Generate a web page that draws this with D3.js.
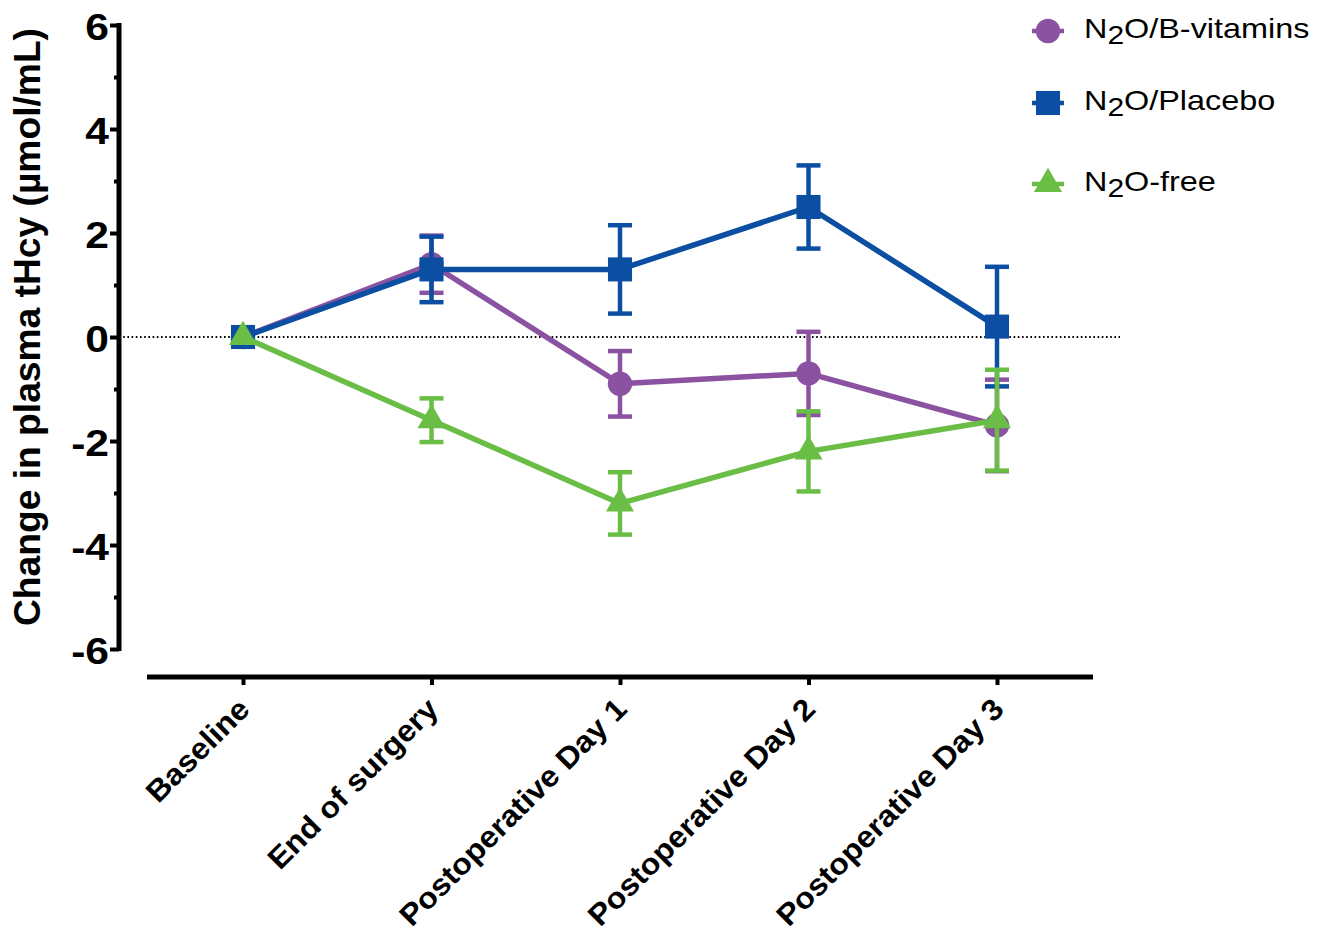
<!DOCTYPE html>
<html lang="en">
<head>
	<meta charset="UTF-8">
	<title>Change in plasma tHcy</title>
	<style>
		body { margin: 0; background: #fff; }
		svg { display: block; font-family: "Liberation Sans", Arial, sans-serif; }
	</style>
</head>
<body>
<svg id="chart" width="1332" height="942"></svg>
<script src="https://cdn.jsdelivr.net/npm/d3@7/dist/d3.min.js"></script>
<script>
	// data (mean change, SEM)
	var categories = ["Baseline", "End of surgery", "Postoperative Day 1", "Postoperative Day 2", "Postoperative Day 3"];
	var bVitMean = [0, 1.4, -0.9, -0.7, -1.7];
	var bVitSE = [0, 0.55, 0.63, 0.8, 0.88];
	var placeboMean = [0, 1.3, 1.3, 2.5, 0.2];
	var placeboSE = [0, 0.63, 0.85, 0.8, 1.15];
	var freeMean = [0, -1.6, -3.2, -2.2, -1.6];
	var freeSE = [0, 0.42, 0.6, 0.77, 0.97];
	var yTicks = [-6, -4, -2, 0, 2, 4, 6];
	var yMinor = [-5, -3, -1, 1, 3, 5];

	var series = [
		{ name: "/B-vitamins", mean: bVitMean, se: bVitSE, color: "#8a52a1", shape: d3.symbolCircle, size: 470, ly: 31 },
		{ name: "/Placebo", mean: placeboMean, se: placeboSE, color: "#0b4ea2", shape: d3.symbolSquare, size: 580, ly: 103 },
		{ name: "-free", mean: freeMean, se: freeSE, color: "#6abd45", shape: d3.symbolTriangle, size: 340, ly: 184 }
	];

	var svg = d3.select("#chart");
	svg.append("rect").attr("width", 1332).attr("height", 942).attr("fill", "#fff");

	var x = d3.scalePoint().domain(categories).range([243, 997]);
	var y = d3.scaleLinear().domain([-6, 6]).range([649, 25]);
	var axisX = 119;

	// zero reference line
	svg.append("line")
		.attr("x1", axisX).attr("x2", 1120)
		.attr("y1", y(0)).attr("y2", y(0))
		.attr("stroke", "#000").attr("stroke-width", 1.8)
		.attr("stroke-dasharray", "1.6,2.6");

	// y axis
	var gy = svg.append("g").attr("transform", "translate(" + axisX + ",0)")
		.call(d3.axisLeft(y).tickValues(yTicks).tickSize(9).tickSizeOuter(0).tickFormat(function (d) { return String(d); }));
	gy.select(".domain").attr("stroke", "#000").attr("stroke-width", 5).attr("d", "M0," + (y(6) - 2) + "V" + (y(-6) + 2));
	gy.selectAll(".tick line").attr("stroke", "#000").attr("stroke-width", 4);
	gy.selectAll(".tick text")
		.attr("x", 0).attr("dy", "0.36em")
		.attr("transform", "translate(-10,1) scale(1.15,1)")
		.attr("font-size", 37).attr("font-weight", "bold")
		.attr("font-family", "Liberation Sans, Arial, sans-serif").attr("fill", "#000");

	var gm = svg.append("g").attr("transform", "translate(" + axisX + ",0)")
		.call(d3.axisLeft(y).tickValues(yMinor).tickSize(5).tickFormat(""));
	gm.select(".domain").remove();
	gm.selectAll(".tick line").attr("stroke", "#000").attr("stroke-width", 4);

	// x axis
	var gx = svg.append("g").attr("transform", "translate(0,677)")
		.call(d3.axisBottom(x).tickSize(8).tickSizeOuter(0));
	gx.select(".domain").attr("stroke", "#000").attr("stroke-width", 5).attr("d", "M147,0H1093");
	gx.selectAll(".tick line").attr("stroke", "#000").attr("stroke-width", 4);
	gx.selectAll(".tick text")
		.attr("x", 0).attr("y", 0).attr("dy", 0)
		.attr("text-anchor", "end")
		.attr("transform", "translate(8,34) rotate(-45) scale(1.07,1)")
		.attr("font-size", 30).attr("font-weight", "bold")
		.attr("font-family", "Liberation Sans, Arial, sans-serif").attr("fill", "#000");

	// y title
	svg.append("text")
		.attr("transform", "translate(40,327) rotate(-90)")
		.attr("text-anchor", "middle")
		.attr("font-size", 37).attr("font-weight", "bold")
		.attr("textLength", 598).attr("lengthAdjust", "spacingAndGlyphs")
		.text("Change in plasma tHcy (\u00b5mol/mL)");

	// series: line, error bars, markers
	var line = d3.line().x(function (d, i) { return x(categories[i]); }).y(function (d) { return y(d); });
	var capW = 12;

	series.forEach(function (s) {
		var g = svg.append("g");
		g.append("path").datum(s.mean)
			.attr("d", line).attr("fill", "none")
			.attr("stroke", s.color).attr("stroke-width", 5.5).attr("stroke-linejoin", "round");

		var pts = s.mean.map(function (m, i) { return { c: categories[i], m: m, e: s.se[i] }; }).filter(function (p) { return p.e > 0; });
		var eb = g.selectAll(".eb").data(pts).join("g").attr("stroke", s.color).attr("stroke-width", 4.5);
		eb.append("line")
			.attr("x1", function (d) { return x(d.c); }).attr("x2", function (d) { return x(d.c); })
			.attr("y1", function (d) { return y(d.m + d.e); }).attr("y2", function (d) { return y(d.m - d.e); });
		eb.append("line")
			.attr("x1", function (d) { return x(d.c) - capW; }).attr("x2", function (d) { return x(d.c) + capW; })
			.attr("y1", function (d) { return y(d.m + d.e); }).attr("y2", function (d) { return y(d.m + d.e); });
		eb.append("line")
			.attr("x1", function (d) { return x(d.c) - capW; }).attr("x2", function (d) { return x(d.c) + capW; })
			.attr("y1", function (d) { return y(d.m - d.e); }).attr("y2", function (d) { return y(d.m - d.e); });

		g.selectAll(".mk").data(s.mean).join("path")
			.attr("d", d3.symbol().type(s.shape).size(s.size))
			.attr("transform", function (d, i) { return "translate(" + x(categories[i]) + "," + y(d) + ")"; })
			.attr("fill", s.color);
	});

	// legend
	var lg = svg.append("g");
	series.forEach(function (s) {
		lg.append("line").attr("x1", 1032).attr("x2", 1064).attr("y1", s.ly).attr("y2", s.ly)
			.attr("stroke", s.color).attr("stroke-width", 4.5);
		lg.append("path").attr("d", d3.symbol().type(s.shape).size(s.size))
			.attr("transform", "translate(1048," + s.ly + ")").attr("fill", s.color);
		var t = lg.append("text")
			.attr("transform", "translate(1084," + (s.ly + 7) + ") scale(1.2,1)")
			.attr("font-size", 27).attr("fill", "#000");
		t.append("tspan").text("N");
		t.append("tspan").attr("font-size", 25).attr("dy", 6).text("2");
		t.append("tspan").attr("dy", -6).text("O" + s.name);
	});
</script>
</body>
</html>
